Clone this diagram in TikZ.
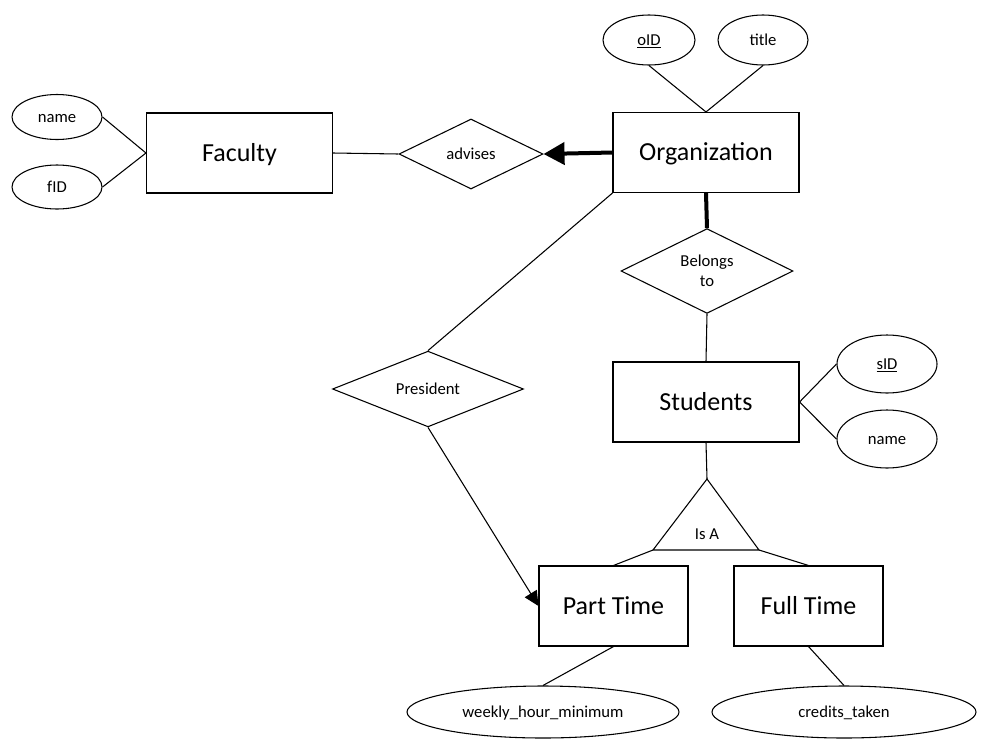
\documentclass[tikz,border=0pt]{standalone}
\usepackage{fontspec}
\setmainfont{Carlito}
\usepackage{tikz}
\usetikzlibrary{arrows.meta,shapes.geometric}

\begin{document}
\begin{tikzpicture}[
    x=0.75pt, y=-0.75pt,
    line width=0.8pt,
    entity/.style={rectangle, draw, minimum width=139.5pt, minimum height=60pt, text height=14pt, text depth=2pt, font=\fontsize{19.5}{23}\selectfont},
    subent/.style={entity, minimum width=111.75pt},
    attr/.style={ellipse, draw, inner sep=0pt, text height=10pt, text depth=2pt, font=\fontsize{12.5}{15}\selectfont},
    rel/.style={diamond, draw, inner sep=0pt, align=center, font=\fontsize{12.5}{15}\selectfont},
    heavy/.style={line width=3pt},
    arrow/.style={-{Triangle[length=11pt, width=10.5pt]}}
]
\useasboundingbox (0,0) rectangle (989,740);

% Entities
\node[entity] (fac) at (239.5,153) {Faculty};
\node[entity] (org) at (706,152.5) {Organization};
\node[entity] (stu) at (706,402) {Students};
\node[subent] (pt) at (613.5,606) {Part Time};
\node[subent] (ft) at (808.5,606) {Full Time};

% Relationships
\node[rel, minimum width=108pt, minimum height=52.5pt] (adv) at (471,154) {advises};
\node[rel, minimum width=129pt, minimum height=51.75pt] (bel) at (707,271) {Belongs\\to};
\node[rel, minimum width=143.25pt, minimum height=52.5pt] (pres) at (428,389) {President};

% Attributes
\node[attr, minimum width=67.5pt, minimum height=33.75pt] (fname) at (57,117) {name};
\node[attr, minimum width=67.5pt, minimum height=33pt] (fid) at (57,187) {fID};
\node[attr, minimum width=69pt, minimum height=37.5pt] (oid) at (649,40) {\underline{oID}};
\node[attr, minimum width=67.5pt, minimum height=37.5pt] (otitle) at (763,40) {title};
\node[attr, minimum width=75pt, minimum height=43.5pt] (sid) at (887,364) {\underline{sID}};
\node[attr, minimum width=75pt, minimum height=43.5pt] (sname) at (887,439) {name};
\node[attr, minimum width=204pt, minimum height=39pt] (weekly) at (543,712) {weekly\_hour\_minimum};
\node[attr, minimum width=198pt, minimum height=39pt] (credits) at (844,712) {credits\_taken};

% Is A triangle
\coordinate (isaT) at (707,479);
\coordinate (isaL) at (653,550);
\coordinate (isaR) at (759,550);
\draw (isaT) -- (isaL) -- (isaR) -- cycle;
\node[font=\fontsize{12.5}{15}\selectfont] (isa) at (707,534) {Is A};

% Edges
\draw (fname.east) -- (fac.west);
\draw (fid.east) -- (fac.west);
\draw (fac.east) -- (adv.west);
\draw[heavy, -{Triangle[length=15.75pt, width=16.5pt]}] (org.west) -- (adv.east);
\draw (oid.south) -- (org.north);
\draw (otitle.south) -- (org.north);
\draw[heavy] (org.south) -- (bel.north);
\draw (bel.south) -- (stu.north);
\draw (stu.east) -- (sid.west);
\draw (stu.east) -- (sname.west);
\draw (stu.south) -- (isaT);
\draw (isaL) -- (pt.north);
\draw (isaR) -- (ft.north);
\draw (pt.south) -- (weekly.north);
\draw (ft.south) -- (credits.north);
\draw (org.south west) -- (pres.north);
\draw[arrow] (pres.south) -- (pt.west);
\end{tikzpicture}
\end{document}
